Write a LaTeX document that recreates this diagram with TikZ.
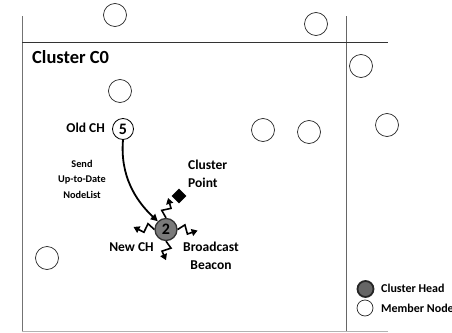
\documentclass[tikz,border=0pt]{standalone}
\usepackage{fontspec}
\setmainfont{Carlito}
\usetikzlibrary{arrows.meta,shapes.geometric}
\begin{document}
\begin{tikzpicture}[x=1pt,y=-1pt,
  member/.style={circle,draw=black!85,line width=0.7pt,minimum size=23pt,inner sep=0pt},
  headnode/.style={circle,draw=black!80,fill=black!52,line width=1.3pt,minimum size=22pt,inner sep=0pt,font=\bfseries\fontsize{16}{16}\selectfont},
  oldnode/.style={circle,draw=black,fill=white,line width=0.8pt,minimum size=21pt,inner sep=0pt,font=\bfseries\fontsize{16}{16}\selectfont},
  lbl/.style={font=\bfseries\fontsize{13.5}{18}\selectfont,inner sep=0pt},
  smalllbl/.style={font=\bfseries\fontsize{10.3}{15.5}\selectfont,inner sep=0pt,align=center},
  leglbl/.style={font=\bfseries\fontsize{12}{14}\selectfont,inner sep=0pt,anchor=west},
  bolt/.style={line width=1.6pt,-{Triangle[length=6pt,width=7pt]}},
  sendarrow/.style={line width=1.8pt,-{Triangle[length=7pt,width=7pt]}},
  ptmark/.style={diamond,fill=black,minimum width=15pt,minimum height=15pt,inner sep=0pt}
]
\useasboundingbox (0,0) rectangle (452,332);
% cluster borders
\draw[line width=1pt,black!55] (22,16) coordinate (lt) -- (22,332) coordinate (lb);
\draw[line width=1pt,black!60] (346,16) coordinate (rt) -- (346,332) coordinate (rb);
\draw[line width=0.9pt,black!80] (22,42) coordinate (hl) -- (388,42) coordinate (hr);
\draw[line width=1pt,black!30] (22,331) coordinate (bl) -- (388,331) coordinate (br);
\node[font=\bfseries\fontsize{18.5}{20}\selectfont,inner sep=0pt,anchor=west] (title) at (32,57) {Cluster C0};
% member nodes
\node[member] (m1) at (115,15) {};
\node[member] (m2) at (316,24) {};
\node[member] (m3) at (361,66) {};
\node[member] (m4) at (120,91) {};
\node[member] (m5) at (387,125) {};
\node[member] (m6) at (263,130) {};
\node[member] (m7) at (309,132) {};
\node[member] (m8) at (47,258) {};
% old and new cluster heads
\node[oldnode] (old) at (123,129) {5};
\node[lbl,anchor=east] (oldlbl) at (105,128) {Old CH};
\node[headnode] (nch) at (166,229.5) {2};
\node[lbl] (newlbl) at (131.5,247) {New CH};
\node[lbl,align=center] (bcast) at (211,256) {Broadcast\\Beacon};
\node[ptmark] (cp) at (179,196) {};
\node[lbl,align=left,anchor=west] (cplbl) at (188,174) {Cluster\\Point};
\node[smalllbl] (sendlbl) at (82,179) {Send\\Up-to-Date\\NodeList};
\draw[sendarrow] (old.south) .. controls (120,175) and (135,200) .. (nch.135);
% broadcast bolts
\draw[bolt,shift={(nch.90)},rotate=84] (0,0) -- (7,-5) -- (10,4) -- (20,0);
\draw[bolt,shift={(nch.180)},rotate=173] (0,0) -- (7,5) -- (10,-4) -- (21,0);
\draw[bolt,shift={(nch.0)},rotate=-3] (0,0) -- (7,-5) -- (10,4) -- (20,0);
\draw[bolt,shift={(nch.270)},rotate=270] (0,0) -- (7,-5) -- (10,4) -- (19,0);
% legend
\node[circle,draw=black!85,fill=black!60,line width=1.8pt,minimum size=16pt,inner sep=0pt] (lgch) at (365.5,289) {};
\node[leglbl] (lgchl) at (381,288) {Cluster Head};
\node[circle,draw=black!85,line width=0.7pt,minimum size=16pt,inner sep=0pt] (lgmn) at (365,308) {};
\node[leglbl] (lgmnl) at (381,308) {Member Node};
\end{tikzpicture}
\end{document}
